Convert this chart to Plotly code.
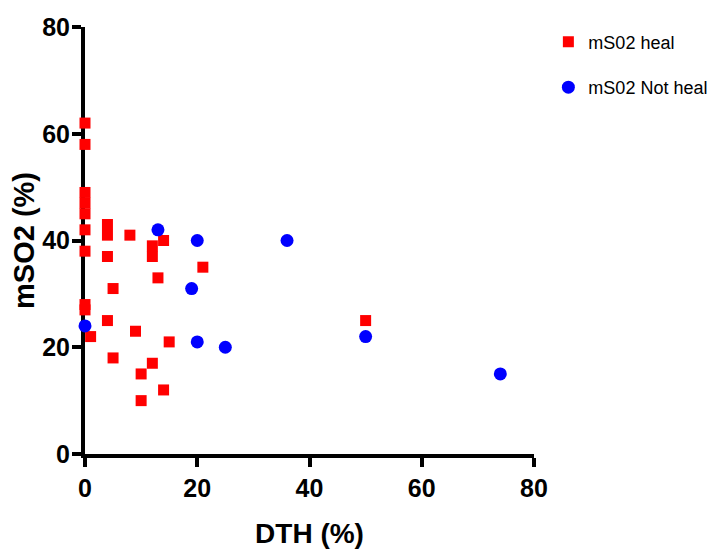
import plotly.graph_objects as go

# Data
heal_x = [0, 0, 0, 0, 0, 0, 0, 0, 0, 1, 4, 4, 4, 4, 5, 5, 8, 9, 10, 10, 12, 12, 12, 13, 14, 14, 15, 21, 50]
heal_y = [62, 58, 49, 47, 45, 42, 38, 28, 27, 22, 43, 41, 37, 25, 31, 18, 41, 23, 15, 10, 39, 37, 17, 33, 40, 12, 21, 35, 25]
notheal_x = [0, 13, 19, 20, 20, 25, 36, 50, 74]
notheal_y = [24, 42, 31, 40, 21, 20, 40, 22, 15]

x_ticks = [0, 20, 40, 60, 80]
y_ticks = [0, 20, 40, 60, 80]

tick_font = dict(family="Liberation Sans, Arial", size=25, color="black", weight="bold")
xtitle_font = dict(family="Liberation Sans, Arial", size=28, color="black", weight="bold")
ytitle_font = dict(family="Liberation Sans, Arial", size=29, color="black", weight="bold")

fig = go.Figure()
fig.add_trace(go.Scatter(
    x=heal_x, y=heal_y, mode="markers", name="mS02 heal", legendgroup="a",
    marker=dict(symbol="square", size=11, color="#ff0000"), cliponaxis=False))
fig.add_trace(go.Scatter(
    x=notheal_x, y=notheal_y, mode="markers", name="mS02 Not heal", legendgroup="b",
    marker=dict(symbol="circle", size=13, color="#0000ff"), cliponaxis=False))

fig.update_layout(
    width=726, height=553,
    margin=dict(l=77, r=200, t=19, b=107),
    plot_bgcolor="white", paper_bgcolor="white",
    showlegend=True,
    legend=dict(x=1.032, y=1.008, xanchor="left", yanchor="top",
                font=dict(family="Liberation Sans, Arial", size=18, color="black"),
                tracegroupgap=19, bgcolor="rgba(0,0,0,0)"),
    xaxis=dict(range=[0, 80], tickvals=x_ticks, showline=True, linecolor="black", linewidth=4,
               ticks="outside", ticklen=9, tickwidth=4, tickcolor="black",
               showgrid=False, zeroline=False, layer="below traces", automargin=False,
               tickfont=tick_font,
               title=dict(text="DTH (%)", font=xtitle_font, standoff=23)),
    yaxis=dict(range=[0, 80], tickvals=y_ticks, showline=True, linecolor="black", linewidth=4,
               ticks="outside", ticklen=9, tickwidth=4, tickcolor="black",
               showgrid=False, zeroline=False, layer="below traces", automargin=False,
               tickfont=tick_font, ticklabelstandoff=-3,
               title=dict(text="mSO2 (%)", font=ytitle_font, standoff=0)),
)

fig.write_html("out.html")
